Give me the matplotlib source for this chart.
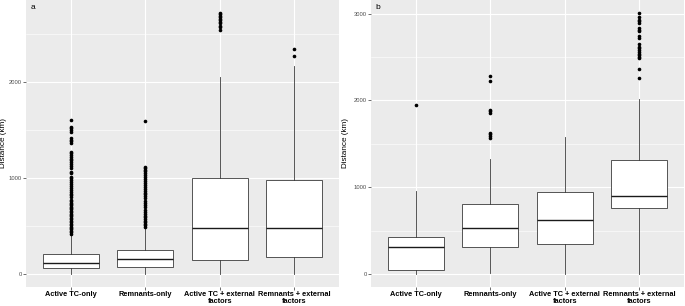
import numpy as np
import matplotlib.pyplot as plt

cats = ['Active TC-only', 'Remnants-only', 'Active TC + external\nfactors',
        'Remnants + external\nfactors']

# panel a: q1, median, q3, whisker low, whisker high
a_q1 = [63, 70, 143, 178]
a_med = [118, 153, 484, 477]
a_q3 = [205, 247, 1007, 986]
a_lo = [0, 0, 0, 0]
a_hi = [408, 500, 2052, 2167]
a_fliers = [
    [420, 435, 450, 465, 480, 495, 510, 525, 540, 555, 570, 585, 600, 615, 630,
     645, 660, 675, 690, 700, 715, 730, 745, 760, 773, 805, 820, 840, 860, 880,
     900, 920, 940, 960, 980, 1000, 1014, 1055, 1066, 1108, 1125, 1145, 1165,
     1185, 1205, 1225, 1245, 1260, 1275, 1369, 1385, 1400, 1421, 1484, 1500,
     1520, 1536, 1609],
    [494, 510, 525, 540, 555, 570, 590, 610, 630, 650, 670, 700, 720, 740, 760,
     790, 810, 830, 850, 870, 890, 910, 930, 950, 970, 990, 1010, 1030, 1050,
     1070, 1090, 1105, 1121, 1592],
    [2550, 2581, 2591, 2620, 2635, 2650, 2665, 2680, 2695, 2710, 2724],
    [2278, 2351],
]

# panel b
b_q1 = [46, 307, 341, 763]
b_med = [307, 525, 618, 898]
b_q3 = [430, 802, 944, 1308]
b_lo = [0, 15, 0, 0]
b_hi = [959, 1320, 1573, 2014]
b_fliers = [
    [1945],
    [1569, 1590, 1610, 1626, 1860, 1875, 1892, 2218, 2276],
    [],
    [2257, 2361, 2488, 2505, 2520, 2540, 2560, 2580, 2600, 2620, 2650, 2718,
     2737, 2795, 2815, 2834, 2892, 2910, 2930, 2956, 3007],
]

plt.rcParams['font.family'] = ['Liberation Sans', 'DejaVu Sans']

fig = plt.figure(figsize=(6.85, 3.06), dpi=100)
W, H = 685, 306


def panel(rect, q1, med, q3, lo, hi, fl, ylim, yticks, minor, tag, ylab_x):
    x0, y0, x1, y1 = rect
    ax = fig.add_axes([x0 / W, 1 - y1 / H, (x1 - x0) / W, (y1 - y0) / H])
    ax.set_facecolor('#EBEBEB')
    stats = []
    for i in range(4):
        stats.append(dict(q1=q1[i], med=med[i], q3=q3[i], whislo=lo[i],
                          whishi=hi[i], fliers=fl[i]))
    ax.bxp(stats, positions=[1, 2, 3, 4], widths=0.75, patch_artist=True,
           showcaps=False,
           boxprops=dict(facecolor='white', edgecolor='#3a3a3a', lw=0.6),
           medianprops=dict(color='#1a1a1a', lw=1.0),
           whiskerprops=dict(color='#3a3a3a', lw=0.6),
           flierprops=dict(marker='o', markersize=1.6, markerfacecolor='black',
                           markeredgecolor='black', lw=0))
    ax.set_xlim(0.4, 4.6)
    ax.set_ylim(*ylim)
    ax.set_yticks(yticks)
    ax.set_yticks(minor, minor=True)
    ax.set_xticks([1, 2, 3, 4])
    ax.set_xticklabels(cats, fontsize=5.3, fontweight='bold', color='black',
                       linespacing=1.0)
    ax.tick_params(axis='y', labelsize=4.2, labelcolor='#4D4D4D', length=2,
                   width=0.5, color='#333333', pad=1)
    ax.tick_params(axis='x', length=2, width=0.5, color='#333333', pad=1)
    ax.tick_params(axis='y', which='minor', length=0)
    ax.grid(True, which='major', color='white', lw=0.8)
    ax.grid(True, which='minor', axis='y', color='white', lw=0.4)
    ax.set_axisbelow(True)
    for s in ax.spines.values():
        s.set_visible(False)
    ax.set_ylabel('Distance (km)', fontsize=5.9)
    ax.yaxis.set_label_coords(ylab_x, 0.5)
    ax.text(0.015, 0.985, tag, transform=ax.transAxes, fontsize=6,
            va='top', ha='left')
    return ax


panel((26, 0, 339, 287), a_q1, a_med, a_q3, a_lo, a_hi, a_fliers,
      (-136, 2860), [0, 1000, 2000], [500, 1500, 2500], 'a', -0.062)
panel((371, 0, 684, 287), b_q1, b_med, b_q3, b_lo, b_hi, b_fliers,
      (-150, 3157), [0, 1000, 2000, 3000], [500, 1500, 2500], 'b', -0.07)

fig.savefig('out.png', dpi=100)
